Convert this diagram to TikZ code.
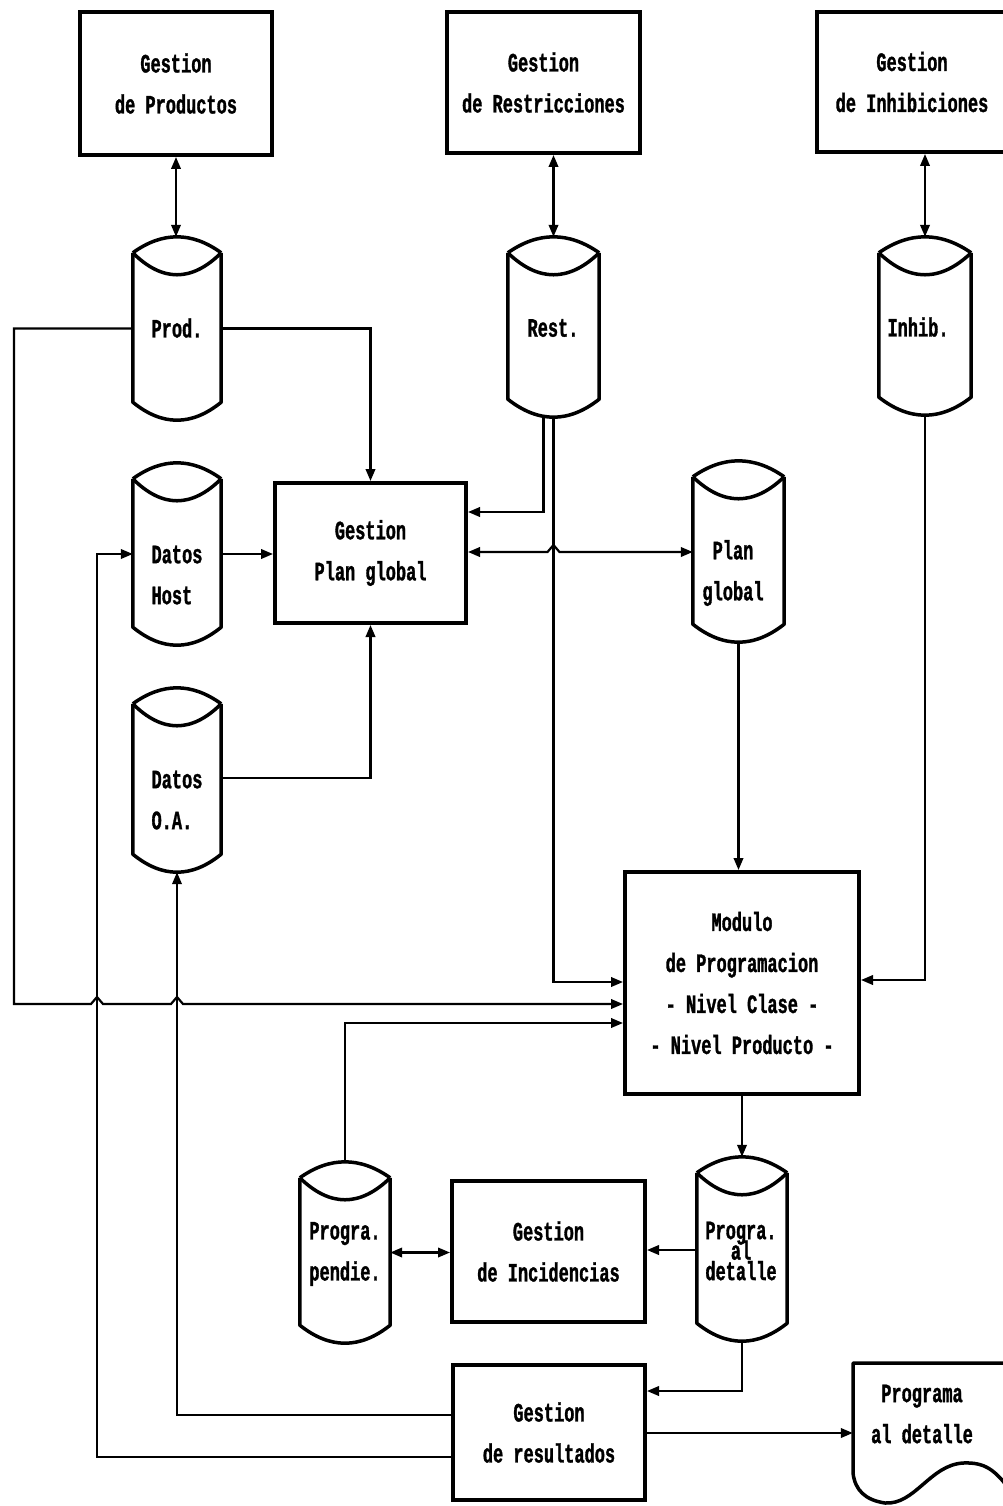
\documentclass[tikz,border=0pt]{standalone}
\usepackage{fontspec}
\newfontfamily\gfont[FakeStretch=0.64,FakeBold=1.2]{Liberation Mono}
\newcommand\mainfont{\gfont\bfseries\fontsize{26.5}{41}\selectfont}
\newcommand\tightfont{\gfont\bfseries\fontsize{26.5}{20.5}\selectfont\lineskiplimit=-50pt\relax}
\usetikzlibrary{arrows.meta,calc}
\newcommand\dbcyl[1]{%
  \draw[cyl] ([yshift=-16pt]#1.north west)
     .. controls ($(#1.north west)!0.3333!(#1.north east)+(0,-5.3)$) and ($(#1.north west)!0.6667!(#1.north east)+(0,-5.3)$)
     .. ([yshift=-16pt]#1.north east);
  \draw[cyl] ([yshift=-16pt]#1.north west)
     .. controls ($(#1.north west)!0.3333!(#1.north east)+(0,45.3)$) and ($(#1.north west)!0.6667!(#1.north east)+(0,45.3)$)
     .. ([yshift=-16pt]#1.north east);
  \draw[cyl] ([yshift=-16pt]#1.north west) -- ([yshift=18pt]#1.south west)
     .. controls ($(#1.south west)!0.3333!(#1.south east)+(0,6)$) and ($(#1.south west)!0.6667!(#1.south east)+(0,6)$)
     .. ([yshift=18pt]#1.south east) -- ([yshift=-16pt]#1.north east);
}
\begin{document}
\begin{tikzpicture}[x=1pt,y=-1pt,
  every node/.style={font=\mainfont},
  box/.style={draw, line width=4pt, align=center, inner sep=0pt},
  cylbox/.style={inner sep=0pt, draw=none},
  cyl/.style={line width=3.5pt, line join=round},
  txt/.style={inner sep=0pt, align=center},
  txtl/.style={inner sep=0pt, align=left},
  conn/.style={line width=2.2pt},
  oneway/.style={-{Triangle[length=12pt,width=9.5pt]}},
  twoway/.style={{Triangle[length=12pt,width=9.5pt]}-{Triangle[length=12pt,width=9.5pt]}},
]
\fill[white] (0,0) rectangle (1003,1506);
\useasboundingbox (0,0) rectangle (1003,1506);
\clip (0,0) rectangle (1003,1506);

% process boxes
\node[box, minimum width=192pt, minimum height=143pt] (gp) at (176,83.5) {Gestion\\de Productos};
\node[box, minimum width=193pt, minimum height=141pt] (gr) at (543.5,82.5) {Gestion\\de Restricciones};
\node[box, minimum width=190pt, minimum height=140pt] (gi) at (912,82) {Gestion\\de Inhibiciones};
\node[box, minimum width=191pt, minimum height=140pt] (gpg) at (370.5,553) {Gestion\\Plan global};
\node[box, minimum width=234pt, minimum height=222pt] (mod) at (742,983) {Modulo\\de Programacion\\- Nivel Clase -\\- Nivel Producto -};
\node[box, minimum width=193pt, minimum height=141pt] (ginc) at (548.5,1251.5) {Gestion\\de Incidencias};
\node[box, minimum width=192pt, minimum height=135pt] (gres) at (549,1432.5) {Gestion\\de resultados};

% data stores
\node[cylbox, minimum width=88pt, minimum height=183pt] (prod) at (177,328.5) {};
\node[cylbox, minimum width=91pt, minimum height=180pt] (rest) at (553.5,327) {};
\node[cylbox, minimum width=92pt, minimum height=178pt] (inhib) at (925,326) {};
\node[cylbox, minimum width=88pt, minimum height=182pt] (dhost) at (177,554) {};
\node[cylbox, minimum width=88pt, minimum height=184pt] (doa) at (177,780) {};
\node[cylbox, minimum width=91pt, minimum height=181pt] (pglob) at (738.5,551.5) {};
\node[cylbox, minimum width=90pt, minimum height=181pt] (ppend) at (345,1252.5) {};
\node[cylbox, minimum width=90pt, minimum height=184pt] (pdet) at (742,1249) {};
\foreach \c in {prod,rest,inhib,dhost,doa,pglob,ppend,pdet} {\dbcyl{\c}}

\node[txt] (tprod) at (177,328) {Prod.};
\node[txt] (trest) at (553,328) {Rest.};
\node[txt] (tinhib) at (918,327) {Inhib.};
\node[txtl] (tdhost) at (177,575) {Datos\\Host};
\node[txtl] (tdoa) at (177,800) {Datos\\O.A.};
\node[txt] (tpglob) at (733,573) {Plan\\global};
\node[txt] (tppend) at (345,1254) {Progra.\\pendie.};
\node[txt, font=\tightfont] (tpdet) at (741,1251) {Progra.\\al\\detalle};

% document
\node[cylbox, minimum width=157pt, minimum height=137pt] (doc) at (931.5,1431.5) {};
\draw[cyl] (1010,1490) .. controls (995,1470) and (985,1462) .. (963,1463)
  .. controls (930,1465) and (915,1505) .. (885,1503)
  .. controls (865,1500) and (855,1490) .. (853,1473) -- (853,1363) -- (1010,1363);
\node[txt] (tdoc) at (922,1414) {Programa\\al detalle};

% connectors
\draw[conn,twoway] (gp.south) -- (gp.south |- prod.north);
\draw[conn,twoway] (rest.north |- gr.south) -- (rest.north);
\draw[conn,twoway] (inhib.north |- gi.south) -- (inhib.north);
\draw[conn,oneway] (prod.west) -- (14,328.5) -- (14,1004) -- (91,1004) -- (97,997) -- (103,1004)
  -- (171,1004) -- (177,997) -- (183,1004) -- (mod.west |- 0,1004);
\draw[conn,oneway] (prod.east) -| (gpg.north);
\draw[conn,oneway] ([xshift=-10pt]rest.south) |- (gpg.east |- 0,512);
\draw[conn,oneway] (rest.south) |- (mod.west |- 0,982);
\draw[conn,twoway] (gpg.east |- 0,552) -- (547.5,552) -- (553.5,545) -- (559.5,552) -- (pglob.west |- 0,552);
\draw[conn,oneway] (dhost.east) -- (gpg.west |- dhost.east);
\draw[conn,oneway] (gres.west |- 0,1457) -- (97,1457) -- (97,554) -- (dhost.west);
\draw[conn,oneway] (doa.east |- 0,778) -| (gpg.south);
\draw[conn,oneway] (gres.west |- 0,1415) -| (doa.south);
\draw[conn,oneway] (pglob.south) -- (pglob.south |- mod.north);
\draw[conn,oneway] (inhib.south) |- (mod.east |- 0,980);
\draw[conn,oneway] (ppend.north) |- (mod.west |- 0,1023);
\draw[conn,oneway] (pdet.north |- mod.south) -- (pdet.north);
\draw[conn,oneway] (pdet.west |- 0,1250) -- (ginc.east |- 0,1250);
\draw[conn,twoway] (ppend.east) -- (ginc.west |- ppend.east);
\draw[conn,oneway] (pdet.south) |- (gres.east |- 0,1391);
\draw[conn,oneway] (gres.east |- 0,1433) -- (doc.west |- 0,1433);
\end{tikzpicture}
\end{document}
